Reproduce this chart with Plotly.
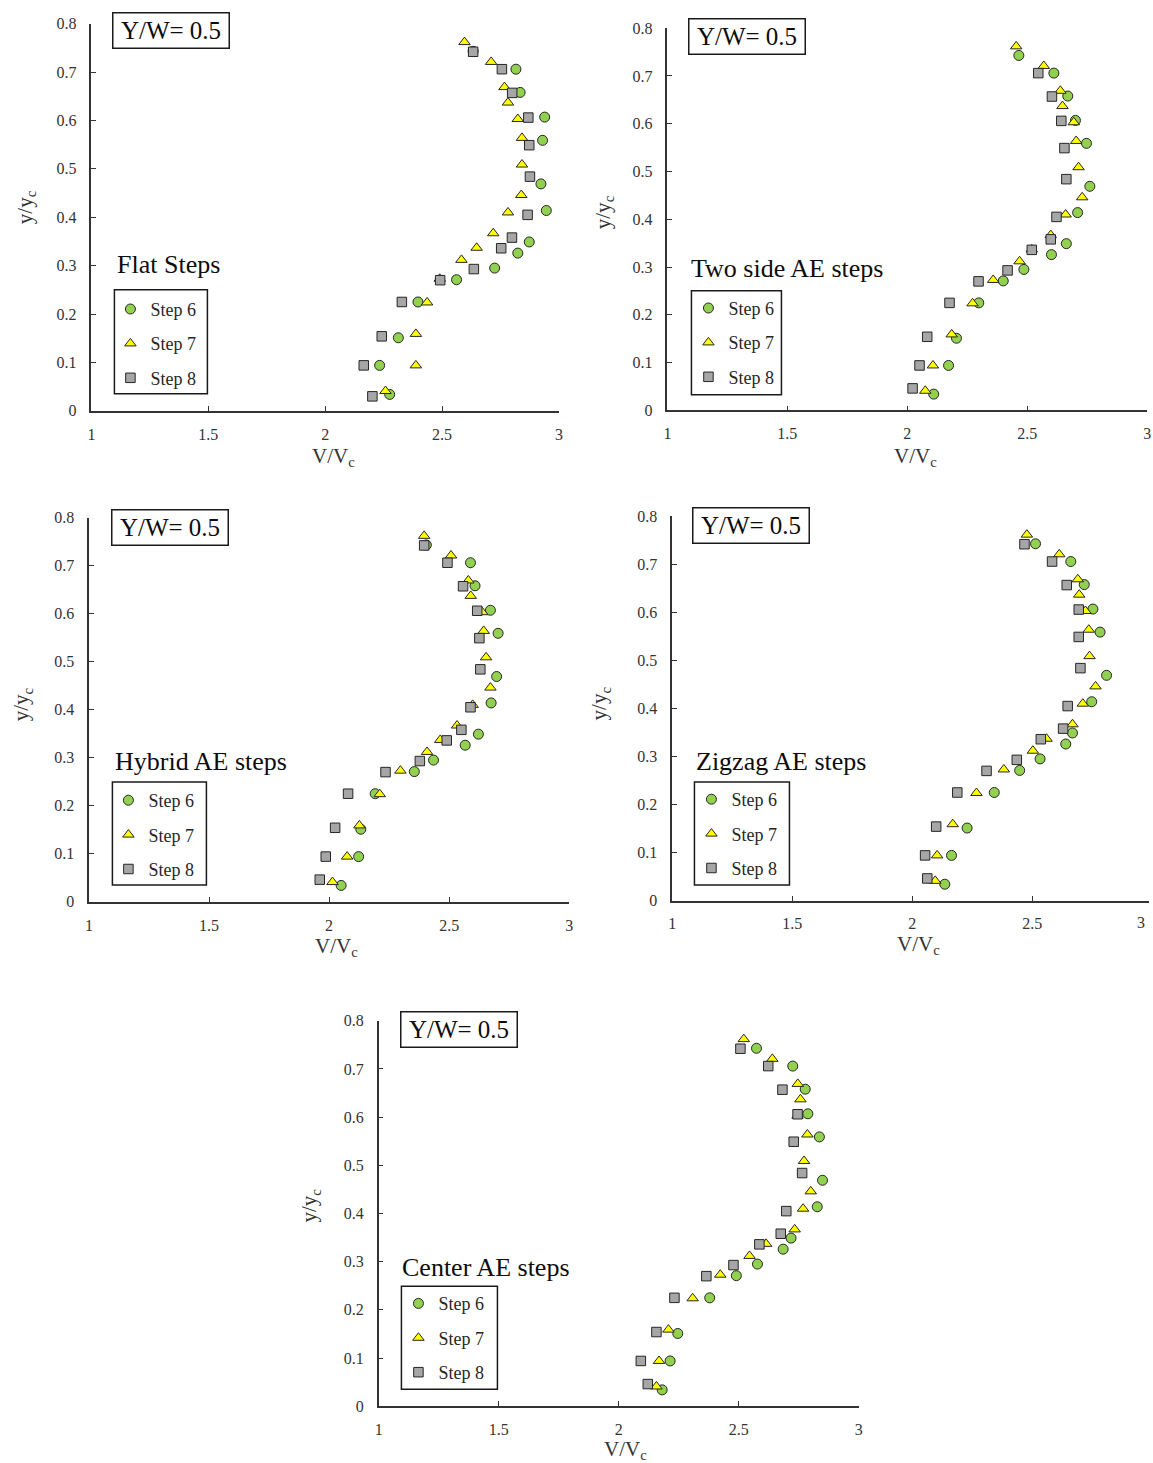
import plotly.graph_objects as go

W, H = 1153, 1463
FONT = "Liberation Serif"
# calibration between target-picture pixels and figure pixels (measured from earlier renders)
SX, OX = 0.993, 3.6
SY, OY = 0.988, 8.3

# ---------------- data ----------------
PANEL_TITLES = ["Flat Steps", "Two side AE steps", "Hybrid AE steps", "Zigzag AE steps", "Center AE steps"]
STEP_NAMES = ["Step 6", "Step 7", "Step 8"]
BOX_LABEL = "Y/W= 0.5"
X_TICKS = [1, 1.5, 2, 2.5, 3]
X_TICK_TEXT = ["1", "1.5", "2", "2.5", "3"]
Y_TICKS = [0, 0.1, 0.2, 0.3, 0.4, 0.5, 0.6, 0.7, 0.8]
Y_TICK_TEXT = ["0", "0.1", "0.2", "0.3", "0.4", "0.5", "0.6", "0.7", "0.8"]

# y/yc measurement depths for each step
Y6 = [0.034, 0.094, 0.151, 0.225, 0.271, 0.295, 0.326, 0.349, 0.414, 0.469, 0.559, 0.607, 0.658, 0.706, 0.743]
Y7 = [0.041, 0.094, 0.159, 0.224, 0.273, 0.312, 0.337, 0.367, 0.410, 0.446, 0.509, 0.564, 0.603, 0.637, 0.669, 0.721, 0.762]
Y8 = [0.046, 0.094, 0.154, 0.225, 0.270, 0.293, 0.336, 0.358, 0.405, 0.484, 0.549, 0.606, 0.657, 0.706, 0.742]
Y8_FLAT = [0.030, 0.094, 0.154, 0.225, 0.270, 0.293, 0.336, 0.358, 0.405, 0.484, 0.549, 0.606, 0.657, 0.706, 0.742]

# V/Vc values
FLAT_S6 = [2.276, 2.233, 2.313, 2.397, 2.562, 2.725, 2.824, 2.873, 2.946, 2.923, 2.930, 2.939, 2.834, 2.816, 2.633]
FLAT_S7 = [2.258, 2.388, 2.388, 2.436, 2.490, 2.583, 2.648, 2.719, 2.782, 2.839, 2.842, 2.842, 2.824, 2.782, 2.767, 2.710, 2.596]
FLAT_S8 = [2.202, 2.165, 2.242, 2.328, 2.492, 2.636, 2.753, 2.799, 2.866, 2.876, 2.873, 2.869, 2.800, 2.756, 2.633]

TWO_S6 = [2.110, 2.172, 2.205, 2.298, 2.400, 2.486, 2.601, 2.663, 2.710, 2.761, 2.747, 2.701, 2.669, 2.611, 2.465]
TWO_S7 = [2.075, 2.107, 2.185, 2.272, 2.358, 2.468, 2.519, 2.598, 2.660, 2.729, 2.714, 2.704, 2.694, 2.647, 2.638, 2.569, 2.454]
TWO_S8 = [2.022, 2.051, 2.083, 2.176, 2.297, 2.418, 2.519, 2.598, 2.622, 2.663, 2.655, 2.642, 2.603, 2.546, None]

HYB_S6 = [2.050, 2.123, 2.132, 2.192, 2.355, 2.435, 2.567, 2.622, 2.675, 2.698, 2.704, 2.672, 2.608, 2.589, 2.405]
HYB_S7 = [2.014, 2.075, 2.126, 2.211, 2.297, 2.408, 2.463, 2.533, 2.598, 2.672, 2.654, 2.644, 2.638, 2.590, 2.580, 2.508, 2.396]
HYB_S8 = [1.961, 1.986, 2.025, 2.079, 2.235, 2.378, 2.490, 2.551, 2.589, 2.630, 2.626, 2.617, 2.558, 2.493, 2.396]

ZIG_S6 = [2.136, 2.164, 2.229, 2.342, 2.448, 2.533, 2.640, 2.668, 2.748, 2.810, 2.783, 2.753, 2.717, 2.661, 2.514]
ZIG_S7 = [2.096, 2.104, 2.169, 2.268, 2.382, 2.503, 2.560, 2.668, 2.711, 2.764, 2.739, 2.736, 2.722, 2.696, 2.690, 2.613, 2.478]
ZIG_S8 = [2.063, 2.054, 2.100, 2.188, 2.310, 2.436, 2.536, 2.629, 2.648, 2.701, 2.694, 2.694, 2.644, 2.583, 2.468]

CEN_S6 = [2.181, 2.214, 2.246, 2.379, 2.490, 2.578, 2.685, 2.718, 2.827, 2.849, 2.836, 2.788, 2.777, 2.725, 2.574]
CEN_S7 = [2.157, 2.168, 2.207, 2.308, 2.423, 2.545, 2.614, 2.733, 2.768, 2.800, 2.772, 2.786, 2.745, 2.757, 2.746, 2.640, 2.521]
CEN_S8 = [2.121, 2.092, 2.157, 2.232, 2.365, 2.478, 2.586, 2.675, 2.698, 2.764, 2.729, 2.745, 2.682, 2.623, 2.507]

PANEL_DATA = [
    [(FLAT_S6, Y6), (FLAT_S7, Y7), (FLAT_S8, Y8_FLAT)],
    [(TWO_S6, Y6), (TWO_S7, Y7), (TWO_S8, Y8)],
    [(HYB_S6, Y6), (HYB_S7, Y7), (HYB_S8, Y8)],
    [(ZIG_S6, Y6), (ZIG_S7, Y7), (ZIG_S8, Y8)],
    [(CEN_S6, Y6), (CEN_S7, Y7), (CEN_S8, Y8)],
]

# ---------------- layout geometry (target pixels) ----------------
# plot area: left (x=1), right (x=3), top (y=0.8), bottom (y=0)
FRAMES = [
    (91, 558.5, 24, 411),
    (667, 1146.7, 28.5, 410.5),
    (88.7, 568.7, 517.7, 901.7),
    (671.7, 1151.7, 516.5, 900.5),
    (378.3, 858.3, 1020.7, 1406),
]
BOX_CENTERS = [(170.5, 31), (746.5, 36.5), (170, 527.5), (751, 525.5), (459, 1029.5)]
TITLE_POS = [(115, 265), (689, 269), (113, 762), (694, 762), (400, 1267)]
LEG_BOXES = [(114, 290, 207, 394), (691, 291, 781, 395), (112, 782, 206, 885), (694, 782, 789, 885), (401, 1286, 497, 1389)]
LEG_MARK_X = [135, 713, 133, 716, 423]
LEG_FIRST_Y = [309, 308, 800, 799, 1303]
XT_POS = [(333, 457), (915, 457), (336, 947), (918, 945), (625, 1450)]
YT_POS = [(25, 207), (603, 212), (22, 704), (600, 703), (310, 1205)]


def fxp(x):
    return (x - OX) / SX


def fyp(y):
    return (y - OY) / SY


def px(x):
    return min(max(fxp(x) / W, 0.0), 1.0)


def py(y):
    return min(max(1 - fyp(y) / H, 0.0), 1.0)


STYLES = [
    dict(symbol="circle", color="#92D050", size=10),
    dict(symbol="triangle-up", color="#FFFF00", size=10),
    dict(symbol="square", color="#A6A6A6", size=9.5),
]

fig = go.Figure()
layout = dict(
    width=W, height=H, margin=dict(l=0, r=0, t=0, b=0),
    paper_bgcolor="white", plot_bgcolor="white",
    showlegend=True, font=dict(family=FONT, color="#262626"),
)
annotations = []
shapes = []
tickfont = dict(family=FONT, size=16, color="#333")

for i in range(5):
    sfx = "" if i == 0 else str(i + 1)
    leg = "legend" if i == 0 else f"legend{i + 1}"
    for j, (xs, ys) in enumerate(PANEL_DATA[i]):
        st = STYLES[j]
        fig.add_trace(go.Scatter(
            x=xs, y=ys, mode="markers", name=STEP_NAMES[j],
            xaxis="x" + sfx, yaxis="y" + sfx, legend=leg,
            legendgroup=f"p{i}s{j}",
            marker=dict(symbol=st["symbol"], color=st["color"], size=st["size"],
                        line=dict(color="#262626", width=1)),
            hoverinfo="x+y", cliponaxis=False,
        ))
    l, r, t, b = FRAMES[i]
    fl, fr = fxp(l), fxp(r)
    xmax = 3.0
    if fr > W:  # axis end falls past the page edge: keep the scale, clip the range
        xmax = 1 + 2.0 * (W - fl) / (fr - fl)
        fr = W
        # last tick label, pulled just inside the page edge
        annotations.append(dict(
            x=px(1147), y=py(922), xref="paper", yref="paper", text=X_TICK_TEXT[-1],
            showarrow=False, font=tickfont, xanchor="right", yanchor="middle",
        ))
    layout["xaxis" + sfx] = dict(
        domain=[fl / W, fr / W], anchor="y" + sfx, range=[1, xmax],
        tickvals=X_TICKS, ticktext=X_TICK_TEXT, ticks="inside", ticklen=5,
        tickwidth=1.3, tickcolor="#333", showline=True, linecolor="#333", linewidth=1.5,
        showgrid=False, zeroline=False, tickfont=tickfont,
        ticklabelstandoff=8,
    )
    layout["yaxis" + sfx] = dict(
        domain=[py(b), py(t)], anchor="x" + sfx, range=[0, 0.8],
        tickvals=Y_TICKS, ticktext=Y_TICK_TEXT, ticks="inside", ticklen=5,
        tickwidth=1.3, tickcolor="#333", showline=True, linecolor="#333", linewidth=1.5,
        showgrid=False, zeroline=False, tickfont=tickfont,
        ticklabelstandoff=10,
    )
    # legend inside box
    layout[leg] = dict(
        x=px(LEG_MARK_X[i] - 25), y=py(LEG_FIRST_Y[i] - 18), xanchor="left", yanchor="top",
        xref="paper", yref="paper",
        bgcolor="rgba(0,0,0,0)", borderwidth=0, tracegroupgap=8,
        font=dict(family=FONT, size=18, color="#262626"),
    )
    x0, y0, x1, y1 = LEG_BOXES[i]
    shapes.append(dict(type="rect", xref="paper", yref="paper",
                       x0=px(x0), x1=px(x1), y0=py(y1), y1=py(y0),
                       line=dict(color="#1a1a1a", width=1.5), fillcolor="rgba(0,0,0,0)"))
    # Y/W box
    cx, cy = BOX_CENTERS[i]
    annotations.append(dict(
        x=px(cx), y=py(cy), xref="paper", yref="paper", text=BOX_LABEL, showarrow=False,
        font=dict(family=FONT, size=25, color="#0d0d0d"), bordercolor="#1a1a1a",
        borderwidth=1.5, borderpad=2, bgcolor="white", width=111, height=30,
        xanchor="center", yanchor="middle",
    ))
    # panel title
    tx, ty = TITLE_POS[i]
    annotations.append(dict(
        x=px(tx), y=py(ty), xref="paper", yref="paper", text=PANEL_TITLES[i], showarrow=False,
        font=dict(family=FONT, size=26, color="#0d0d0d"), xanchor="left", yanchor="middle",
    ))
    # axis titles
    ax_, ay_ = XT_POS[i]
    annotations.append(dict(
        x=px(ax_), y=py(ay_), xref="paper", yref="paper", text="V/V<sub>c</sub>", showarrow=False,
        font=dict(family=FONT, size=21, color="#333"), xanchor="center", yanchor="middle",
    ))
    bx_, by_ = YT_POS[i]
    annotations.append(dict(
        x=px(bx_), y=py(by_), xref="paper", yref="paper", text="y/y<sub>c</sub>", showarrow=False,
        font=dict(family=FONT, size=21, color="#333"), xanchor="center", yanchor="middle",
        textangle=-90,
    ))

layout["annotations"] = annotations
layout["shapes"] = shapes
fig.update_layout(**layout)
fig.write_html("out.html")
